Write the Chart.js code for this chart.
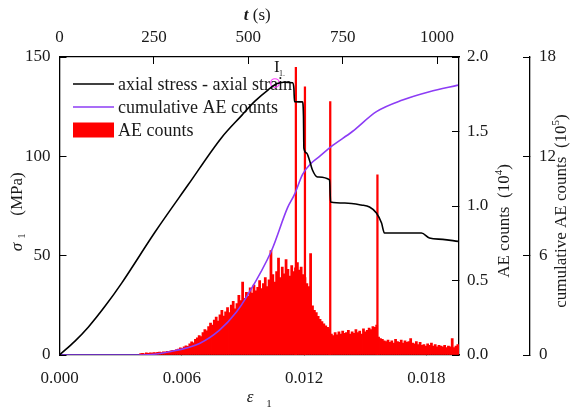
<!DOCTYPE html>
<html>
<head>
<meta charset="utf-8">
<script src="https://cdn.jsdelivr.net/npm/chart.js@4.4.1/dist/chart.umd.min.js"></script>
<style>
  body { margin: 0; background: #fff; }
  #wrap { width: 573px; height: 407px; }
</style>
</head>
<body>
<div id="wrap"><canvas id="myChart" width="573" height="407"></canvas></div>
<script>
// axial stress - axial strain (bottom axis, MPa)
const strainStress = [0, 0.00076, 0.00141, 0.00223, 0.00305, 0.00468, 0.00632, 0.00795, 0.00893, 0.00959,
  0.01024, 0.01065, 0.0110, 0.01143, 0.0115, 0.01153, 0.01192, 0.01197, 0.01199, 0.01212, 0.01226, 0.01241,
  0.01266, 0.01325, 0.0133, 0.014, 0.0148, 0.01521, 0.01555, 0.0158, 0.01594, 0.01776, 0.01815, 0.0188, 0.01955];
const stressMPa = [0, 7.0, 14.0, 24.5, 36.2, 61.8, 85.8, 109.4, 120.5, 127.8,
  133.5, 136.5, 137.3, 137.0, 134, 127.5, 127.4, 120, 104.2, 101.7, 98.2, 93.1,
  89.6, 88.1, 77.0, 76.5, 75.5, 74.5, 71.5, 66.4, 61.4, 61.4, 58.9, 58.2, 57.2];

// cumulative AE counts (x10^5)
const strainCum = [0, 0.00407, 0.0054, 0.00687, 0.00785, 0.00868, 0.00917, 0.0104, 0.01119, 0.01153,
  0.01192, 0.01236, 0.01276, 0.01334, 0.01437, 0.01555, 0.01683, 0.01815, 0.01955];
const cumAE = [0, 0, 0.2, 0.7, 1.5, 2.6, 3.5, 6.3, 8.9, 9.7,
  10.9, 11.6, 12.0, 12.6, 13.5, 14.7, 15.4, 15.9, 16.3];

// AE counts (x10^4) against time t (s)
const aeTime = [
  215, 220, 225, 230, 235, 240, 245, 250, 255, 260,
  265, 270, 275, 280, 285, 290, 295, 300, 305, 310,
  315, 320, 325, 330, 335, 340, 345, 350, 355, 360,
  365, 370, 375, 380, 385, 390, 395, 400, 405, 410,
  415, 420, 425, 430, 435, 440, 445, 450, 455, 460,
  465, 470, 475, 480, 485, 490, 495, 500, 505, 510,
  515, 520, 525, 530, 535, 540, 545, 550, 555, 560,
  565, 570, 575, 580, 585, 590, 595, 600, 605, 610,
  615, 620, 625, 630, 635, 640, 645, 650, 655, 660,
  665, 670, 675, 680, 685, 690, 695, 700, 705, 710,
  715, 720, 725, 730, 735, 740, 745, 750, 755, 760,
  765, 770, 775, 780, 785, 790, 795, 800, 805, 810,
  815, 820, 825, 830, 835, 840, 845, 850, 855, 860,
  865, 870, 875, 880, 885, 890, 895, 900, 905, 910,
  915, 920, 925, 930, 935, 940, 945, 950, 955, 960,
  965, 970, 975, 980, 985, 990, 995, 1000, 1005, 1010,
  1015, 1020, 1025, 1030, 1035, 1040, 1045, 1050, 1055];
const aeCounts = [
  0.010, 0.012, 0.008, 0.014, 0.011, 0.015, 0.013, 0.017, 0.014, 0.018,
  0.020, 0.016, 0.022, 0.019, 0.025, 0.021, 0.028, 0.032, 0.027, 0.036,
  0.040, 0.048, 0.044, 0.055, 0.062, 0.058, 0.075, 0.088, 0.082, 0.105,
  0.115, 0.130, 0.124, 0.150, 0.170, 0.162, 0.190, 0.215, 0.200, 0.235,
  0.255, 0.228, 0.270, 0.300, 0.262, 0.290, 0.318, 0.285, 0.335, 0.360,
  0.310, 0.345, 0.400, 0.365, 0.490, 0.380, 0.420, 0.395, 0.450, 0.415,
  0.470, 0.430, 0.455, 0.500, 0.445, 0.480, 0.520, 0.460, 0.505, 0.700,
  0.540, 0.490, 0.560, 0.650, 0.520, 0.590, 0.545, 0.640, 0.575, 0.530,
  0.600, 0.560, 0.585, 0.620, 0.570, 0.590, 0.540, 0.520, 0.480, 0.460,
  0.680, 0.330, 0.300, 0.285, 0.260, 0.240, 0.225, 0.210, 0.195, 0.185,
  0.175, 0.140, 0.130, 0.150, 0.135, 0.155, 0.140, 0.160, 0.145, 0.150,
  0.165, 0.140, 0.155, 0.145, 0.170, 0.150, 0.160, 0.140, 0.175, 0.155,
  0.165, 0.180, 0.170, 0.190, 0.185, 0.200, 0.120, 0.110, 0.105, 0.095,
  0.090, 0.100, 0.085, 0.095, 0.080, 0.105, 0.090, 0.085, 0.100, 0.080,
  0.095, 0.085, 0.090, 0.110, 0.080, 0.075, 0.090, 0.070, 0.085, 0.065,
  0.070, 0.060, 0.075, 0.065, 0.080, 0.060, 0.070, 0.055, 0.065, 0.060,
  0.055, 0.065, 0.050, 0.060, 0.055, 0.110, 0.050, 0.060, 0.070];
// the four big AE spikes
const spikeTime = [626, 650, 717, 842];
const spikeCounts = [1.93, 1.80, 1.70, 1.21];

// point I1 (peak stress)
const peakStrain = [0.01057];
const peakStress = [136.9];

// tick labels
const strainTicks = [0, 0.006, 0.012, 0.018];
const timeTicks = [0, 250, 500, 750, 1000];
const stressTicks = [0, 50, 100, 150];
const aeTicks = [0, 0.5, 1.0, 1.5, 2.0];
const cumTicks = [0, 6, 12, 18];

const SERIF = "'Liberation Serif', 'Times New Roman', serif";
const INK = '#1a1a1a';

function xy(xs, ys) {
  return xs.map((v, i) => ({ x: v, y: ys[i] }));
}

// draw pieces of text one after another, centred on cx (current transform)
function drawParts(ctx, parts, cx, cy) {
  let total = 0;
  parts.forEach(p => { ctx.font = p.font; p.w = ctx.measureText(p.text).width; total += p.w; });
  let x = cx - total / 2;
  parts.forEach(p => {
    ctx.font = p.font;
    ctx.fillText(p.text, x, cy + (p.dy || 0));
    x += p.w;
  });
}

const refText = {
  id: 'refText',
  beforeDatasetsDraw(chart) {
    // legend inside the plot
    const ctx = chart.ctx, a = chart.chartArea;
    ctx.save();
    [0, 1, 2].forEach((i, k) => {
      const ds = chart.data.datasets[i];
      const y = a.top + 27 + k * 23;
      const x0 = a.left + 13.5;
      if (ds.type === 'line') {
        ctx.strokeStyle = ds.borderColor;
        ctx.lineWidth = 1.6;
        ctx.beginPath(); ctx.moveTo(x0, y); ctx.lineTo(x0 + 41, y); ctx.stroke();
      } else {
        ctx.fillStyle = ds.backgroundColor;
        ctx.fillRect(x0, y - 7.5, 41, 15);
      }
      ctx.fillStyle = INK;
      ctx.font = '18px ' + SERIF;
      ctx.textAlign = 'left';
      ctx.textBaseline = 'middle';
      ctx.fillText(ds.label, x0 + 45, y + 1);
    });
    ctx.restore();
  },
  afterDatasetsDraw(chart) {
    const ctx = chart.ctx;
    const p = chart.getDatasetMeta(4).data[0];
    ctx.save();
    ctx.fillStyle = INK;
    ctx.textAlign = 'center';
    ctx.textBaseline = 'middle';
    ctx.font = '17px ' + SERIF;
    ctx.fillText('I', p.x + 2, p.y - 15);
    ctx.font = '8px ' + SERIF;
    ctx.fillText('1.', p.x + 7, p.y - 9);
    ctx.restore();
  },
  afterDraw(chart) {
    const ctx = chart.ctx, a = chart.chartArea;
    const midX = (a.left + a.right) / 2, midY = (a.top + a.bottom) / 2;
    const big = '17px ' + SERIF, ital = 'italic 17px ' + SERIF, small = '11px ' + SERIF;
    ctx.save();
    ctx.fillStyle = INK;
    ctx.textAlign = 'left';
    ctx.textBaseline = 'middle';
    // top: t (s)
    drawParts(ctx, [{ text: 't', font: 'italic bold 17px ' + SERIF }, { text: ' (s)', font: big }], midX - 2, a.top - 41);
    // bottom: epsilon 1
    drawParts(ctx, [{ text: 'ε', font: ital }, { text: '   ', font: big }, { text: '1', font: small, dy: 6 }], midX, a.bottom + 43);
    // left: sigma 1 (MPa)
    ctx.save();
    ctx.translate(a.left - 42, midY);
    ctx.rotate(-Math.PI / 2);
    ctx.textAlign = 'center';
    ctx.font = ital; ctx.fillText('σ', -41, 0);
    ctx.font = small; ctx.fillText('1', -30, 5);
    ctx.font = big; ctx.fillText('(MPa)', 12, 0);
    ctx.restore();
    // right: AE counts (10^4)
    ctx.save();
    ctx.translate(a.right + 46, midY + 15);
    ctx.rotate(-Math.PI / 2);
    drawParts(ctx, [{ text: 'AE counts  (10', font: big }, { text: '4', font: small, dy: -6 }, { text: ')', font: big }], 0, 0);
    ctx.restore();
    // far right: cumulative AE counts (10^5)
    ctx.save();
    ctx.translate(a.right + 103, midY + 5);
    ctx.rotate(-Math.PI / 2);
    drawParts(ctx, [{ text: 'cumulative AE counts  (10', font: big }, { text: '5', font: small, dy: -6 }, { text: ')', font: big }], 0, 0);
    ctx.restore();
    ctx.restore();
  }
};

function axisStyle(extra) {
  return Object.assign({
    type: 'linear',
    offset: false,
    grid: { drawOnChartArea: false, tickLength: -7, color: '#000', lineWidth: 1, offset: false },
    border: { color: '#000', width: 1.3 }
  }, extra);
}

function tickFont(padding, callback) {
  return { color: INK, font: { family: SERIF, size: 17 }, autoSkip: false, maxRotation: 0, padding: padding, callback: callback };
}

function fixedTicks(list) {
  return s => { s.ticks = list.map(v => ({ value: v })); };
}

const ctx = document.getElementById('myChart').getContext('2d');
const myChart = new Chart(ctx, {
  type: 'bar',
  data: {
    datasets: [{
      type: 'line',
      label: 'axial stress - axial strain',
      data: xy(strainStress, stressMPa),
      xAxisID: 'x', yAxisID: 'y',
      borderColor: '#000000',
      borderWidth: 1.6,
      pointRadius: 0,
      cubicInterpolationMode: 'monotone'
    }, {
      type: 'line',
      label: 'cumulative AE counts',
      data: xy(strainCum, cumAE),
      xAxisID: 'x', yAxisID: 'ycum',
      borderColor: '#8c3cf5',
      borderWidth: 1.6,
      pointRadius: 0,
      cubicInterpolationMode: 'monotone'
    }, {
      type: 'bar',
      label: 'AE counts',
      data: xy(aeTime, aeCounts),
      xAxisID: 'xt', yAxisID: 'yae',
      backgroundColor: '#ff0000',
      borderWidth: 0,
      barThickness: 2.1,
      grouped: false
    }, {
      type: 'bar',
      label: 'AE spikes',
      data: xy(spikeTime, spikeCounts),
      xAxisID: 'xt', yAxisID: 'yae',
      backgroundColor: '#ff0000',
      borderWidth: 0,
      barThickness: 1.6,
      grouped: false
    }, {
      type: 'line',
      label: 'I1',
      data: xy(peakStrain, peakStress),
      xAxisID: 'x', yAxisID: 'y',
      showLine: false,
      pointRadius: 4.3,
      pointBorderWidth: 1.2,
      pointBorderColor: '#ff3cff',
      pointBackgroundColor: 'rgba(0,0,0,0)'
    }]
  },
  options: {
    responsive: false,
    animation: false,
    devicePixelRatio: 1,
    layout: { padding: 0 },
    plugins: {
      legend: { display: false },
      tooltip: { enabled: false }
    },
    scales: {
      x: axisStyle({
        position: 'bottom', min: 0, max: 0.0196,
        ticks: tickFont(20, v => v.toFixed(3)),
        afterBuildTicks: fixedTicks(strainTicks),
        afterFit: s => { s.height = 52; }
      }),
      xt: axisStyle({
        position: 'top', min: 0, max: 1058,
        ticks: tickFont(16, v => String(v)),
        afterBuildTicks: fixedTicks(timeTicks),
        afterFit: s => { s.height = 57; }
      }),
      y: axisStyle({
        position: 'left', min: 0, max: 150,
        ticks: tickFont(16, v => String(v)),
        afterBuildTicks: fixedTicks(stressTicks),
        afterFit: s => { s.width = 59.5; }
      }),
      yae: axisStyle({
        position: 'right', min: 0, max: 2, weight: 0,
        ticks: tickFont(15, v => v.toFixed(1)),
        afterBuildTicks: fixedTicks(aeTicks),
        afterFit: s => { s.width = 71; }
      }),
      ycum: axisStyle({
        position: 'right', min: 0, max: 18, weight: 1,
        ticks: tickFont(16, v => String(v)),
        afterBuildTicks: fixedTicks(cumTicks),
        afterFit: s => { s.width = 43; }
      })
    }
  },
  plugins: [refText]
});
</script>
</body>
</html>
